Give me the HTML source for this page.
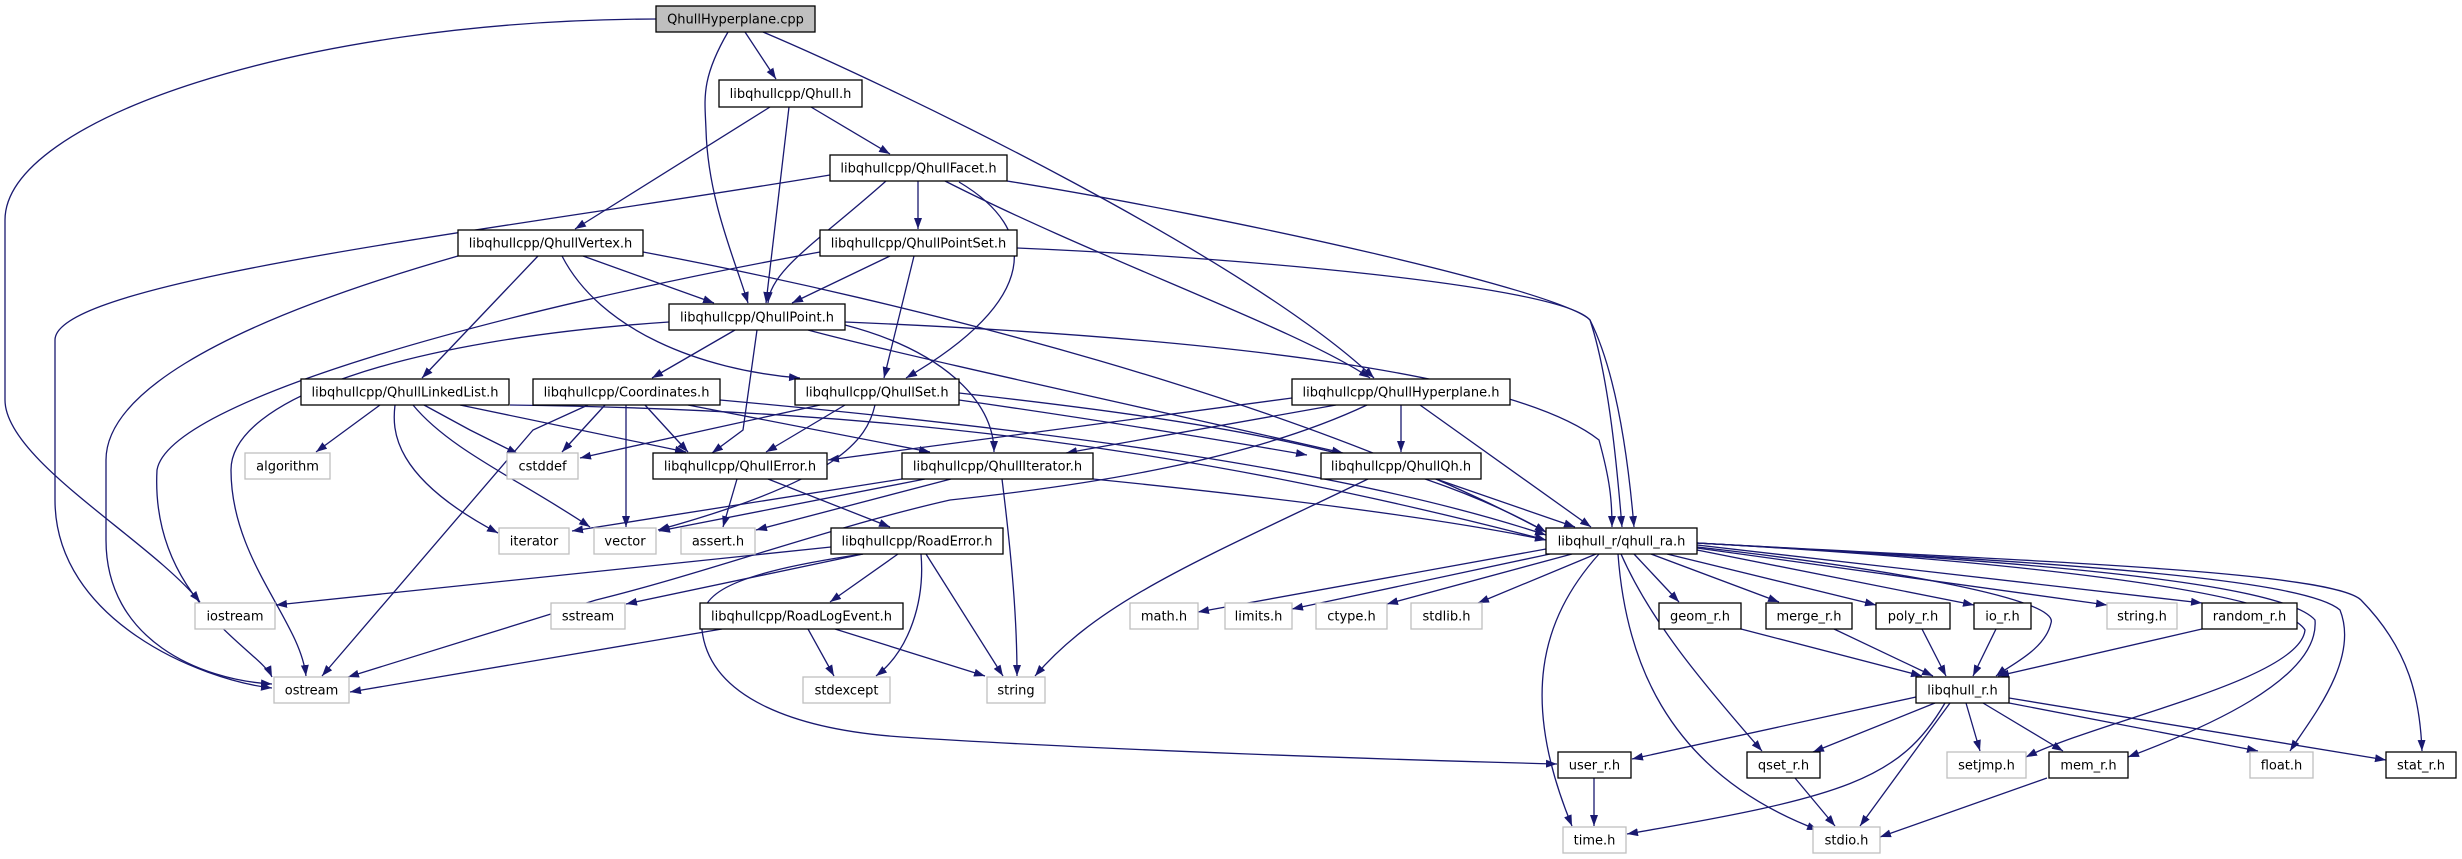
<!DOCTYPE html>
<html><head><meta charset="utf-8"><style>
html,body{margin:0;padding:0;background:#fff;}
svg{display:block;}
text{font-family:"DejaVu Sans","Liberation Sans",sans-serif;font-size:13px;fill:#000;}
</style></head><body>
<svg width="2462" height="859" viewBox="0 0 2462 859" xmlns="http://www.w3.org/2000/svg">
<defs>
<marker id="a" markerUnits="userSpaceOnUse" markerWidth="12" markerHeight="9" refX="11" refY="4" orient="auto"><path d="M0,0 L11,4 L0,8 z" fill="#191970"/></marker>
</defs>
<g fill="none" stroke="#191970" stroke-width="1.3" marker-end="url(#a)">
<!-- QhullHyperplane.cpp -->
<path d="M656,19 C300,20 5,120 5,220 L5,400 C5,460 150,540 200,602"/>
<path d="M728,32 C700,80 705,100 706,130 C708,200 735,260 748,303"/>
<path d="M745,32 L776,79"/>
<path d="M763,32 C900,90 1250,260 1374,378"/>
<!-- Qhull.h -->
<path d="M770,107 L575,229"/>
<path d="M789,107 L766,303"/>
<path d="M811,107 L890,154"/>
<!-- QhullFacet.h -->
<path d="M830,175 C500,230 55,280 55,340 L55,500 C55,620 200,680 272,688"/>
<path d="M886,181 C820,240 770,270 768,303"/>
<path d="M918,181 L918,229"/>
<path d="M959,182 C1040,230 1040,300 906,378"/>
<path d="M945,181 C1100,260 1300,330 1370,378"/>
<path d="M1007,181 C1230,217 1560,290 1590,320 C1620,380 1630,480 1634,527"/>
<!-- QhullVertex.h -->
<path d="M458,256 C200,330 106,400 106,460 L106,540 C106,640 200,680 272,684"/>
<path d="M538,256 L422,378"/>
<path d="M583,256 L714,303"/>
<path d="M562,256 C600,330 700,370 800,378"/>
<path d="M643,252 C900,300 1300,400 1546,532"/>
<!-- QhullPointSet.h -->
<path d="M820,252 C500,310 169,400 157,470 C150,600 260,650 272,677"/>
<path d="M890,256 L792,303"/>
<path d="M914,256 L884,378"/>
<path d="M1017,248 C1230,257 1560,285 1590,320 C1610,380 1618,480 1622,527"/>
<!-- QhullPoint.h -->
<path d="M669,322 C400,340 231,400 231,470 C231,560 300,620 306,676"/>
<path d="M735,330 L652,378"/>
<path d="M757,330 L743,430 L712,453"/>
<path d="M845,325 C941,350 994,400 994,452"/>
<path d="M808,330 C900,355 1200,420 1343,453"/>
<path d="M845,322 C1230,338 1516,375 1599,440 C1610,480 1612,500 1612,527"/>
<!-- Coordinates.h -->
<path d="M588,405 L533,430 L322,676"/>
<path d="M605,405 L562,452"/>
<path d="M626,405 L626,527"/>
<path d="M645,405 L688,452"/>
<path d="M688,405 L930,452"/>
<path d="M720,400 C1050,430 1350,470 1546,535"/>
<!-- QhullLinkedList.h -->
<path d="M380,405 L316,452"/>
<path d="M395,405 C392,430 392,477 498,533"/>
<path d="M424,405 L470,430 L518,454"/>
<path d="M413,405 C450,450 520,480 590,527"/>
<path d="M460,405 L686,452"/>
<path d="M510,405 C900,410 1200,450 1546,540"/>
<!-- QhullSet.h -->
<path d="M820,405 L706,430 L580,458"/>
<path d="M845,405 L766,452"/>
<path d="M875,405 C867,440 839,480 658,530"/>
<path d="M959,393 C1200,420 1400,450 1546,532"/>
<path d="M959,400 C1100,420 1250,445 1307,455"/>
<!-- QhullHyperplane.h -->
<path d="M1292,398 L828,460"/>
<path d="M1336,405 L1066,453"/>
<path d="M1401,405 L1401,452"/>
<path d="M1420,405 L1591,527"/>
<path d="M1367,405 C1250,460 1090,485 950,500 C831,527 706,573 596,600 L348,677"/>
<!-- QhullError.h -->
<path d="M737,479 L723,527"/>
<path d="M768,479 L890,527"/>
<!-- QhullIterator.h -->
<path d="M902,479 L572,531"/>
<path d="M925,479 L659,531"/>
<path d="M951,479 L756,530"/>
<path d="M1002,479 C1012,560 1017,620 1017,676"/>
<path d="M1093,479 C1300,500 1450,520 1546,540"/>
<!-- RoadError.h -->
<path d="M831,547 L276,605"/>
<path d="M863,554 C706,577 700,600 702,630 C710,700 800,730 902,737 C1100,750 1400,760 1557,764"/>
<path d="M863,554 L626,604"/>
<path d="M898,554 L830,602"/>
<path d="M921,554 C925,600 910,650 876,676"/>
<path d="M926,554 L1003,676"/>
<!-- RoadLogEvent.h -->
<path d="M722,629 L350,692"/>
<path d="M808,629 L834,676"/>
<path d="M835,629 L985,676"/>
<!-- QhullQh.h -->
<path d="M1368,479 C1200,560 1100,600 1035,676"/>
<path d="M1436,479 L1575,527"/>
<!-- qhull_ra.h -->
<path d="M1546,549 L1198,612"/>
<path d="M1550,554 L1292,609"/>
<path d="M1572,554 L1387,604"/>
<path d="M1596,554 L1478,603"/>
<path d="M1634,554 L1679,602"/>
<path d="M1651,554 L1779,602"/>
<path d="M1667,554 L1876,605"/>
<path d="M1697,550 L1974,605"/>
<path d="M1697,548 L2107,605"/>
<path d="M1697,545 L2202,603"/>
<path d="M1697,547 C1900,570 2060,600 2051,623 C2045,650 2010,665 1996,676"/>
<path d="M1697,543 C2000,560 2330,570 2361,600 C2410,650 2420,700 2422,751"/>
<path d="M1697,543 C2000,560 2300,575 2340,610 C2360,660 2310,720 2290,751"/>
<path d="M1697,543 C2000,560 2280,580 2315,620 C2320,680 2200,730 2128,757"/>
<path d="M1697,543 C2000,560 2280,590 2305,630 C2300,680 2100,720 2026,757"/>
<path d="M1621,554 C1650,620 1700,680 1762,751"/>
<path d="M1618,554 C1625,650 1660,770 1818,830"/>
<path d="M1599,554 C1540,620 1520,700 1572,826"/>
<!-- libqhull_r.h -->
<path d="M1916,697 L1632,759"/>
<path d="M1935,703 L1813,752"/>
<path d="M1945,703 C1900,780 1843,797 1627,834"/>
<path d="M1950,703 L1860,826"/>
<path d="M1966,703 L1980,751"/>
<path d="M1983,703 L2063,751"/>
<path d="M2009,703 L2258,751"/>
<path d="M2009,698 L2386,760"/>
<path d="M1741,629 L1922,676"/>
<path d="M1834,629 L1933,676"/>
<path d="M1922,629 L1946,676"/>
<path d="M1996,629 L1973,676"/>
<path d="M2202,629 L1998,676"/>
<path d="M1594,778 L1594,826"/>
<path d="M1795,778 L1835,826"/>
<path d="M2047,778 L1880,837"/>
</g>
<!-- nodes -->
<g stroke-width="1.3">
<rect x="656" y="6" width="159" height="26" fill="#bfbfbf" stroke="#000"/>
<g fill="#fff" stroke="#000">
<rect x="719" y="80" width="143" height="27"/>
<rect x="830" y="155" width="177" height="26"/>
<rect x="458" y="230" width="185" height="26"/>
<rect x="820" y="230" width="197" height="26"/>
<rect x="669" y="304" width="176" height="26"/>
<rect x="301" y="379" width="208" height="26"/>
<rect x="533" y="379" width="187" height="26"/>
<rect x="795" y="379" width="164" height="26"/>
<rect x="1292" y="379" width="218" height="26"/>
<rect x="653" y="453" width="174" height="26"/>
<rect x="902" y="453" width="191" height="26"/>
<rect x="1321" y="453" width="160" height="26"/>
<rect x="831" y="528" width="172" height="26"/>
<rect x="1546" y="528" width="151" height="26"/>
<rect x="700" y="603" width="203" height="26"/>
<rect x="1659" y="603" width="82" height="26"/>
<rect x="1766" y="603" width="86" height="26"/>
<rect x="1876" y="603" width="74" height="26"/>
<rect x="1974" y="603" width="57" height="26"/>
<rect x="2202" y="603" width="95" height="26"/>
<rect x="1916" y="677" width="93" height="26"/>
<rect x="1558" y="752" width="73" height="26"/>
<rect x="1747" y="752" width="73" height="26"/>
<rect x="2049" y="752" width="79" height="26"/>
<rect x="2386" y="752" width="70" height="26"/>
</g>
<g fill="#fff" stroke="#bfbfbf">
<rect x="245" y="453" width="85" height="26"/>
<rect x="507" y="453" width="71" height="26"/>
<rect x="499" y="528" width="70" height="26"/>
<rect x="594" y="528" width="62" height="26"/>
<rect x="681" y="528" width="74" height="26"/>
<rect x="195" y="603" width="80" height="26"/>
<rect x="551" y="603" width="74" height="26"/>
<rect x="1130" y="603" width="68" height="26"/>
<rect x="1225" y="603" width="67" height="26"/>
<rect x="1316" y="603" width="71" height="26"/>
<rect x="1411" y="603" width="71" height="26"/>
<rect x="2107" y="603" width="70" height="26"/>
<rect x="274" y="677" width="75" height="26"/>
<rect x="803" y="677" width="87" height="26"/>
<rect x="987" y="677" width="58" height="26"/>
<rect x="1947" y="752" width="79" height="26"/>
<rect x="2250" y="752" width="63" height="26"/>
<rect x="1563" y="827" width="63" height="26"/>
<rect x="1813" y="827" width="67" height="26"/>
</g>
</g>
<g text-anchor="middle">
<text x="735.5" y="23.5">QhullHyperplane.cpp</text>
<text x="790.5" y="98">libqhullcpp/Qhull.h</text>
<text x="918.5" y="172.5">libqhullcpp/QhullFacet.h</text>
<text x="550.5" y="247.5">libqhullcpp/QhullVertex.h</text>
<text x="918.5" y="247.5">libqhullcpp/QhullPointSet.h</text>
<text x="757" y="321.5">libqhullcpp/QhullPoint.h</text>
<text x="405" y="396.5">libqhullcpp/QhullLinkedList.h</text>
<text x="626.5" y="396.5">libqhullcpp/Coordinates.h</text>
<text x="877" y="396.5">libqhullcpp/QhullSet.h</text>
<text x="1401" y="396.5">libqhullcpp/QhullHyperplane.h</text>
<text x="740" y="470.5">libqhullcpp/QhullError.h</text>
<text x="997.5" y="470.5">libqhullcpp/QhullIterator.h</text>
<text x="1401" y="470.5">libqhullcpp/QhullQh.h</text>
<text x="917" y="545.5">libqhullcpp/RoadError.h</text>
<text x="1621.5" y="545.5">libqhull_r/qhull_ra.h</text>
<text x="801.5" y="620.5">libqhullcpp/RoadLogEvent.h</text>
<text x="1700" y="620.5">geom_r.h</text>
<text x="1809" y="620.5">merge_r.h</text>
<text x="1913" y="620.5">poly_r.h</text>
<text x="2002.5" y="620.5">io_r.h</text>
<text x="2249.5" y="620.5">random_r.h</text>
<text x="1962.5" y="694.5">libqhull_r.h</text>
<text x="1594.5" y="769.5">user_r.h</text>
<text x="1783.5" y="769.5">qset_r.h</text>
<text x="2088.5" y="769.5">mem_r.h</text>
<text x="2421" y="769.5">stat_r.h</text>
<text x="287.5" y="470.5">algorithm</text>
<text x="542.5" y="470.5">cstddef</text>
<text x="534" y="545.5">iterator</text>
<text x="625" y="545.5">vector</text>
<text x="718" y="545.5">assert.h</text>
<text x="235" y="620.5">iostream</text>
<text x="588" y="620.5">sstream</text>
<text x="1164" y="620.5">math.h</text>
<text x="1258.5" y="620.5">limits.h</text>
<text x="1351.5" y="620.5">ctype.h</text>
<text x="1446.5" y="620.5">stdlib.h</text>
<text x="2142" y="620.5">string.h</text>
<text x="311.5" y="694.5">ostream</text>
<text x="846.5" y="694.5">stdexcept</text>
<text x="1016" y="694.5">string</text>
<text x="1986.5" y="769.5">setjmp.h</text>
<text x="2281.5" y="769.5">float.h</text>
<text x="1594.5" y="844.5">time.h</text>
<text x="1846.5" y="844.5">stdio.h</text>
</g>
</svg>
</body></html>
